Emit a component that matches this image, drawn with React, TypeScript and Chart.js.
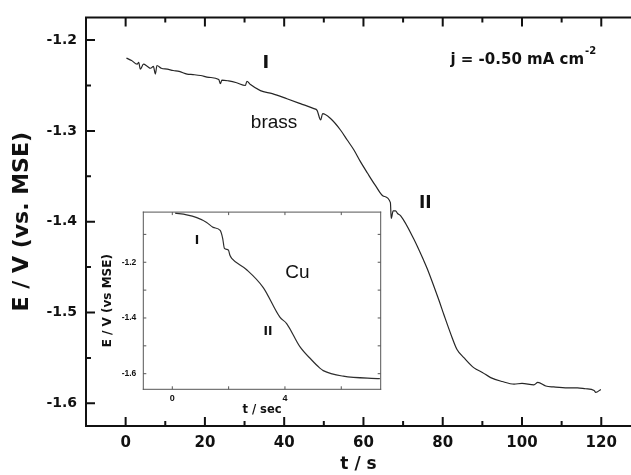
import React, { useEffect, useRef } from 'react';
import { Chart, registerables } from 'chart.js';
Chart.register(...registerables);

// ---- main curve (brass), t in s, E in V vs MSE ----
const mainT = [0.2, 1.5, 2.9, 3.3, 3.7, 4.5, 5.5, 6.3, 7.0, 7.5, 7.9, 9.0, 10.5, 12.0, 13.5, 15.5, 17.0, 18.9, 21.0, 23.5, 23.9, 24.3, 26.0, 28.0, 30.2, 30.6, 31.5, 34.0, 37.0, 40.7, 44.1, 47.5, 48.3, 49.2, 49.7, 51.7, 54.2, 55.9, 57.6, 59.2, 61.0, 63.0, 65.1, 66.8, 67.0, 67.5, 68.1, 68.6, 69.4, 72.7, 75.2, 76.1, 79.0, 80.3, 82.4, 83.6, 85.4, 87.9, 90.0, 92.1, 95.0, 98.0, 100.0, 103.0, 104.0, 106.0, 108.0, 111.5, 114.0, 116.0, 118.2, 118.6, 119.9];
const mainE = [-1.2199, -1.2225, -1.2265, -1.2245, -1.232, -1.2265, -1.229, -1.231, -1.229, -1.2374, -1.228, -1.231, -1.232, -1.2335, -1.2345, -1.2374, -1.238, -1.239, -1.241, -1.2435, -1.248, -1.244, -1.245, -1.247, -1.25, -1.2453, -1.249, -1.2556, -1.259, -1.2646, -1.27, -1.2755, -1.2774, -1.288, -1.281, -1.2864, -1.299, -1.31, -1.321, -1.3336, -1.3464, -1.36, -1.372, -1.379, -1.3965, -1.388, -1.388, -1.391, -1.3936, -1.419, -1.4426, -1.4518, -1.486, -1.5025, -1.528, -1.5407, -1.55, -1.561, -1.566, -1.5717, -1.576, -1.5789, -1.578, -1.5796, -1.577, -1.581, -1.582, -1.583, -1.583, -1.584, -1.5858, -1.588, -1.5847];

// ---- inset curve (Cu), t in sec ----
const insetT = [0.1, 0.51, 0.87, 1.22, 1.45, 1.7, 1.79, 1.85, 1.99, 2.05, 2.11, 2.64, 3.23, 3.82, 4.06, 4.53, 4.94, 5.24, 5.36, 6.07, 7.37];
const insetE = [-1.024, -1.03, -1.04, -1.057, -1.075, -1.086, -1.115, -1.15, -1.156, -1.176, -1.186, -1.227, -1.291, -1.397, -1.42, -1.503, -1.55, -1.58, -1.589, -1.609, -1.618];

// ---- ticks ----
const mainXTicks = [0, 20, 40, 60, 80, 100, 120];
const mainXMinor = [10, 30, 50, 70, 90, 110];
const mainYTicks = [-1.6, -1.5, -1.4, -1.3, -1.2];
const mainYMinor = [-1.55, -1.45, -1.35, -1.25];
const insetXTicks = [0, 4];
const insetXMinor = [2, 6];
const insetYTicks = [-1.6, -1.4, -1.2];
const insetYMinor = [-1.5, -1.3, -1.1];

const BOLD = 'DejaVu Sans';
const REG = 'Liberation Sans';

const framePlugin = {
  id: 'frameTicks',
  beforeDraw(chart: any, _a: any, o: any) {
    if (!o.fill) return;
    const { ctx, chartArea: a } = chart;
    ctx.save();
    ctx.fillStyle = o.fill;
    ctx.fillRect(a.left, a.top, a.right - a.left, a.bottom - a.top);
    ctx.restore();
  },
  afterDatasetsDraw(chart: any, _a: any, o: any) {
    const { ctx, chartArea: a, scales } = chart;
    ctx.save();
    ctx.strokeStyle = o.color;
    ctx.lineWidth = o.width;
    ctx.lineCap = 'square';
    ctx.beginPath();
    if (o.sides.includes('left')) { ctx.moveTo(a.left, a.top); ctx.lineTo(a.left, a.bottom); }
    if (o.sides.includes('bottom')) { ctx.moveTo(a.left, a.bottom); ctx.lineTo(a.right, a.bottom); }
    if (o.sides.includes('top')) { ctx.moveTo(a.left, a.top); ctx.lineTo(a.right, a.top); }
    if (o.sides.includes('right')) { ctx.moveTo(a.right, a.top); ctx.lineTo(a.right, a.bottom); }
    ctx.stroke();
    ctx.lineWidth = o.tickWidth;
    ctx.lineCap = 'butt';
    ctx.beginPath();
    const xs: [number[], number][] = [[o.xMajor, o.majorLen], [o.xMinor, o.minorLen]];
    for (const [vals, len] of xs) {
      for (const v of vals) {
        const px = scales.x.getPixelForValue(v);
        ctx.moveTo(px, a.bottom); ctx.lineTo(px, a.bottom - len);
        if (o.sides.includes('top')) { ctx.moveTo(px, a.top); ctx.lineTo(px, a.top + len); }
      }
    }
    const ys: [number[], number][] = [[o.yMajor, o.majorLen], [o.yMinor, o.minorLen]];
    for (const [vals, len] of ys) {
      for (const v of vals) {
        const py = scales.y.getPixelForValue(v);
        ctx.moveTo(a.left, py); ctx.lineTo(a.left + len, py);
        if (o.sides.includes('right')) { ctx.moveTo(a.right, py); ctx.lineTo(a.right - len, py); }
      }
    }
    ctx.stroke();
    ctx.restore();
  },
};

const notePlugin = {
  id: 'notes',
  afterDatasetsDraw(chart: any, _a: any, o: any) {
    const { ctx, scales } = chart;
    ctx.save();
    for (const it of o.items) {
      const px = scales.x.getPixelForValue(it.x);
      const py = scales.y.getPixelForValue(it.y);
      ctx.font = it.font;
      ctx.fillStyle = it.color || '#111';
      ctx.textAlign = it.align || 'center';
      ctx.textBaseline = 'middle';
      ctx.fillText(it.text, px, py);
      if (it.sup) {
        const w = ctx.measureText(it.text).width;
        const sx = it.align === 'left' ? px + w + 1 : px + w / 2 + 1;
        ctx.font = it.supFont;
        ctx.textAlign = 'left';
        ctx.fillText(it.sup, sx, py - 9);
      }
    }
    ctx.restore();
  },
};

function pts(xs: number[], ys: number[]) {
  return xs.map((x, i) => ({ x, y: ys[i] }));
}

export default function App() {
  const mainRef = useRef<HTMLCanvasElement>(null);
  const insetRef = useRef<HTMLCanvasElement>(null);

  useEffect(() => {
    document.body.style.margin = '0';
    const main = new Chart(mainRef.current!, {
      type: 'line',
      data: {
        datasets: [{
          data: pts(mainT, mainE),
          borderColor: '#262626',
          borderWidth: 1.2,
          pointRadius: 0,
          cubicInterpolationMode: 'monotone',
          fill: false,
        }],
      },
      options: {
        responsive: false,
        animation: false,
        devicePixelRatio: 1,
        layout: { padding: { top: 13, right: 0, left: 0, bottom: 0 } },
        plugins: {
          legend: { display: false },
          tooltip: { enabled: false },
          frameTicks: {
            color: '#111', width: 2, tickWidth: 2, sides: ['left', 'bottom', 'top'],
            xMajor: mainXTicks, xMinor: mainXMinor, yMajor: mainYTicks, yMinor: mainYMinor,
            majorLen: 9, minorLen: 5,
          },
          notes: {
            items: [
              { text: 'I', x: 35.4, y: -1.2259, font: `bold 18px "${BOLD}"` },
              { text: 'brass', x: 37.45, y: -1.2908, font: `19px "${REG}"` },
              { text: 'II', x: 75.6, y: -1.3802, font: `bold 17px "${BOLD}"` },
              { text: 'j = -0.50 mA cm', x: 81.95, y: -1.2221, font: `bold 15px "${BOLD}"`, align: 'left', sup: '-2', supFont: `bold 10px "${BOLD}"` },
            ],
          },
        } as any,
        scales: {
          x: {
            type: 'linear', min: -10, max: 127.5,
            afterBuildTicks: (s: any) => { s.ticks = mainXTicks.map((v) => ({ value: v })); },
            afterFit: (s: any) => { s.height = 49; },
            grid: { display: false, drawTicks: false },
            border: { display: false },
            ticks: { autoSkip: false, maxRotation: 0, padding: 8, color: '#111', font: { family: BOLD, weight: 'bold', size: 15 }, callback: (v: any) => String(v) },
            title: { display: true, text: 't / s', color: '#111', font: { family: BOLD, weight: 'bold', size: 17 }, padding: { top: 0, bottom: 0 } },
          },
          y: {
            type: 'linear', min: -1.625, max: -1.175,
            afterBuildTicks: (s: any) => { s.ticks = mainYTicks.map((v) => ({ value: v })); },
            afterFit: (s: any) => { s.width = 86; },
            grid: { display: false, drawTicks: false },
            border: { display: false },
            ticks: { autoSkip: false, padding: 9, color: '#111', font: { family: BOLD, weight: 'bold', size: 14 }, callback: (v: any) => Number(v).toFixed(1) },
            title: { display: true, text: 'E / V (vs. MSE)', color: '#111', font: { family: BOLD, weight: 'bold', size: 22 }, padding: { top: 9, bottom: 0 } },
          },
        } as any,
      },
      plugins: [framePlugin, notePlugin],
    });

    const inset = new Chart(insetRef.current!, {
      type: 'line',
      data: {
        datasets: [{
          data: pts(insetT, insetE),
          borderColor: '#2e2e2e',
          borderWidth: 1.2,
          pointRadius: 0,
          cubicInterpolationMode: 'monotone',
          fill: false,
        }],
      },
      options: {
        responsive: false,
        animation: false,
        devicePixelRatio: 1,
        layout: { padding: { top: 7.7, right: 4.3, left: 0, bottom: 0 } },
        plugins: {
          legend: { display: false },
          tooltip: { enabled: false },
          frameTicks: {
            fill: '#fff',
            color: '#555', width: 1, tickWidth: 1, sides: ['left', 'bottom', 'top', 'right'],
            xMajor: insetXTicks, xMinor: insetXMinor, yMajor: insetYTicks, yMinor: insetYMinor,
            majorLen: 3, minorLen: 3,
          },
          notes: {
            items: [
              { text: 'I', x: 0.88, y: -1.1228, font: `bold 12px "${BOLD}"` },
              { text: 'Cu', x: 4.44, y: -1.2386, font: `19px "${REG}"` },
              { text: 'II', x: 3.4, y: -1.4509, font: `bold 12px "${BOLD}"` },
            ],
          },
        } as any,
        scales: {
          x: {
            type: 'linear', min: -1.03, max: 7.4,
            afterBuildTicks: (s: any) => { s.ticks = insetXTicks.map((v) => ({ value: v })); },
            afterFit: (s: any) => { s.height = 30.7; },
            grid: { display: false, drawTicks: false },
            border: { display: false },
            ticks: { autoSkip: false, maxRotation: 0, padding: 4, color: '#111', font: { family: REG, weight: 'bold', size: 9 }, callback: (v: any) => String(v) },
            title: { display: true, text: 't / sec', color: '#111', font: { family: BOLD, weight: 'bold', size: 11.5 }, padding: { top: 0, bottom: 3 } },
          },
          y: {
            type: 'linear', min: -1.656, max: -1.02,
            afterBuildTicks: (s: any) => { s.ticks = insetYTicks.map((v) => ({ value: v })); },
            afterFit: (s: any) => { s.width = 48.3; },
            grid: { display: false, drawTicks: false },
            border: { display: false },
            ticks: { autoSkip: false, padding: 7, color: '#111', font: { family: REG, weight: 'bold', size: 8.5 }, callback: (v: any) => Number(v).toFixed(1) },
            title: { display: true, text: 'E / V (vs MSE)', color: '#111', font: { family: BOLD, weight: 'bold', size: 12 }, padding: { top: 5.5, bottom: 0 } },
          },
        } as any,
      },
      plugins: [framePlugin, notePlugin],
    });

    return () => { main.destroy(); inset.destroy(); };
  }, []);

  return (
    <div style={{ position: 'relative', width: 631, height: 475, background: '#fff', overflow: 'hidden' }}>
      <canvas ref={mainRef} width={631} height={475} style={{ position: 'absolute', left: 0, top: 0 }} />
      <canvas ref={insetRef} width={290} height={220} style={{ position: 'absolute', left: 95, top: 200 }} />
    </div>
  );
}
